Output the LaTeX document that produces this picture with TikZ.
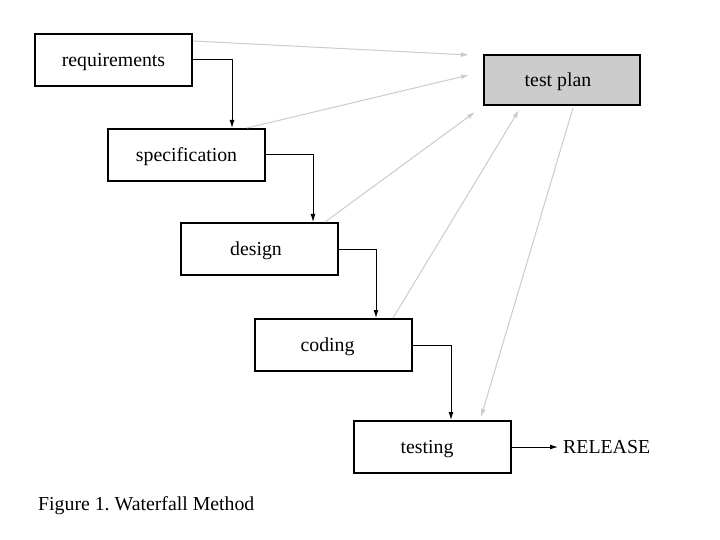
\documentclass[tikz,border=0pt]{standalone}
\usepackage{fontspec}
\setmainfont{Liberation Serif}
\usetikzlibrary{arrows.meta}
\frenchspacing
\begin{document}
\begin{tikzpicture}[x=1pt,y=-1pt,
  font=\fontsize{19.8}{23}\selectfont,
  stagebox/.style={draw,line width=2pt,minimum width=157pt,minimum height=52pt,inner sep=0pt,
    text height=17pt,text depth=4pt},
  nudge/.style={execute at begin node={\kern-#1}},
  flow/.style={-{Latex[length=8pt,width=5pt]},line width=1pt,black},
  plan/.style={-{Latex[length=8pt,width=5pt]},line width=1pt,draw=black!20,fill=none}]
\useasboundingbox[fill=white] (0,0) rectangle (720,540);
\node[stagebox] (req) at (113.5,60) {requirements};
\node[stagebox,nudge=8pt,fill=black!20,minimum width=156pt,minimum height=50pt] (tp) at (562,80) {test plan};
\node[stagebox] (spec) at (186.5,155) {specification};
\node[stagebox,nudge=7pt] (des) at (259.5,249) {design};
\node[stagebox,nudge=11pt] (cod) at (333,345) {coding};
\node[stagebox,nudge=11pt] (tst) at (432.5,447) {testing};
\node[anchor=west,inner xsep=5pt,inner ysep=0pt] (rel) at (558,447) {RELEASE};
\node[anchor=west,inner sep=0pt] (cap) at (38,506) {Figure 1. Waterfall Method};
% black flow arrows
\draw[flow] (req.east) -| ([xshift=45.5pt]spec.north);
\draw[flow] (spec.east) -| ([xshift=53.5pt]des.north);
\draw[flow] (des.east) -| ([xshift=43pt]cod.north);
\draw[flow] (cod.east) -| ([xshift=18.5pt]tst.north);
\draw[flow] (tst.east) -- (rel.west);
% gray test-plan arrows
\draw[plan] ([yshift=19pt]req.east) -- ([xshift=-14pt,yshift=25pt]tp.west);
\draw[plan] ([xshift=60.5pt]spec.north) -- ([xshift=-14pt,yshift=5pt]tp.west);
\draw[plan] ([xshift=65.5pt]des.north) -- ([xshift=-8pt,yshift=-6pt]tp.south west);
\draw[plan] ([xshift=60pt]cod.north) -- ([xshift=-43pt,yshift=-4pt]tp.south);
\draw[plan] ([xshift=11pt,yshift=-2pt]tp.south) -- ([xshift=48.5pt,yshift=3pt]tst.north);
\end{tikzpicture}
\end{document}
